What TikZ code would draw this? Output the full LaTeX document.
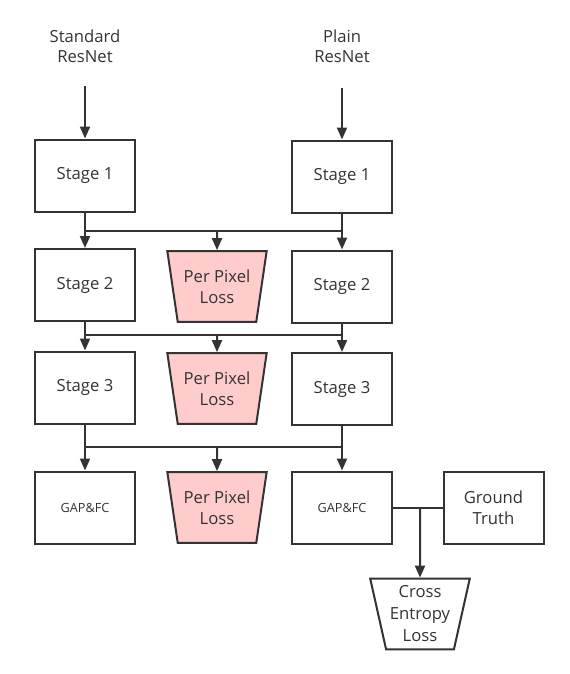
\documentclass[tikz,border=0pt]{standalone}
\usepackage{fontspec}
\setmainfont{Open Sans}
\usetikzlibrary{arrows.meta,shapes.geometric}
\definecolor{linegray}{HTML}{333333}
\definecolor{losspink}{HTML}{FFCCCC}
\tikzset{
  stagebox/.style={draw=linegray, line width=1.5pt, minimum width=75pt, minimum height=54pt, align=center,
    font=\fontsize{12.5}{16}\selectfont, text=linegray},
  smallbox/.style={stagebox, font=\fontsize{9.5}{11}\selectfont},
  lossbox/.style={trapezium, trapezium stretches=true, shape border rotate=180, trapezium angle=76,
    draw=linegray, line width=1.5pt, minimum width=75pt, minimum height=53pt, align=center,
    font=\fontsize{12.5}{16}\selectfont, text=linegray, inner sep=1pt},
  pixloss/.style={lossbox, fill=losspink},
  flow/.style={draw=linegray, line width=1.5pt, -{Triangle[length=9pt,width=7.5pt]}},
  wire/.style={draw=linegray, line width=1.5pt},
  title/.style={align=center, font=\fontsize{12.5}{15}\selectfont, text=linegray}
}
\begin{document}
\begin{tikzpicture}[x=0.75pt, y=-0.75pt]
\useasboundingbox (0,0) rectangle (569,674);
% inputs
\node[title] (stdname) at (85,46) {Standard\\ResNet};
\node[title] (plainname) at (342,46) {Plain\\ResNet};
\coordinate (stdin) at (85,86);
\coordinate (plainin) at (342,88);
% standard resnet
\node[stagebox] (s1) at (85,175.5) {Stage 1};
\node[stagebox] (s2) at (85,285) {Stage 2};
\node[stagebox] (s3) at (85,387.5) {Stage 3};
\node[smallbox] (sgap) at (85,507.5) {GAP\&FC};
% plain resnet
\node[stagebox] (p1) at (342,176.5) {Stage 1};
\node[stagebox] (p2) at (342,286.5) {Stage 2};
\node[stagebox] (p3) at (342,389) {Stage 3};
\node[smallbox] (pgap) at (342,507.5) {GAP\&FC};
% losses
\node[pixloss] (loss1) at (217,286.5) {Per Pixel\\Loss};
\node[pixloss] (loss2) at (217,388.5) {Per Pixel\\Loss};
\node[pixloss] (loss3) at (217,507.5) {Per Pixel\\Loss};
\node[stagebox] (truth) at (493.5,507.5) {Ground\\Truth};
\node[lossbox, font=\fontsize{12.5}{16.5}\selectfont] (celoss) at (420,614) {Cross\\Entropy\\Loss};
% junctions
\coordinate (j1) at (85,231);
\coordinate (j2) at (85,335);
\coordinate (j3) at (85,447);
\coordinate (jce) at (420,507.5);

\draw[flow] (stdin) -- (s1);
\draw[flow] (plainin) -- (p1);

\draw[flow] (s1) -- (s2);
\draw[flow] (s2) -- (s3);
\draw[flow] (s3) -- (sgap);
\draw[flow] (p1) -- (p2);
\draw[flow] (p2) -- (p3);
\draw[flow] (p3) -- (pgap);

\draw[wire] (j1) -- (j1 -| p1);
\draw[wire] (j2) -- (j2 -| p2);
\draw[wire] (j3) -- (j3 -| p3);
\draw[flow] (j1 -| loss1) -- (loss1);
\draw[flow] (j2 -| loss2) -- (loss2);
\draw[flow] (j3 -| loss3) -- (loss3);

\draw[wire] (pgap) -- (truth);
\draw[flow] (jce) -- (celoss);
\end{tikzpicture}
\end{document}
